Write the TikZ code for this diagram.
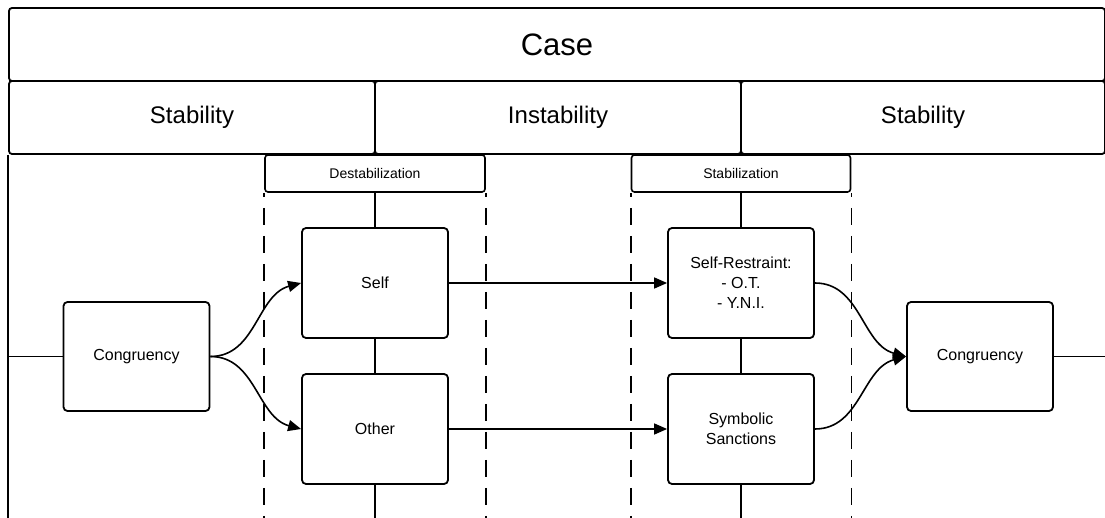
\documentclass[tikz,border=0pt]{standalone}
\usepackage{fontspec}
\setmainfont{Liberation Sans}
\usetikzlibrary{arrows.meta}
\begin{document}
\begin{tikzpicture}[x=1pt,y=-1pt,
		frame/.style={draw,line width=1.8pt,rounded corners=3pt,inner sep=0pt},
		box/.style={draw,line width=1.8pt,rounded corners=4pt,minimum width=146pt,minimum height=110pt,align=center,font=\fontsize{16}{20}\selectfont},
		tag/.style={draw,line width=1.6pt,rounded corners=3pt,minimum width=220pt,minimum height=37pt,font=\fontsize{14}{16}\selectfont},
		link/.style={line width=1.6pt},
		dashline/.style={line width=1.6pt,dash pattern=on 17pt off 11pt,dash phase=13pt},
		arr/.style={link,-{Triangle[length=13pt,width=11pt]}}]
		\useasboundingbox (0,0) rectangle (1105,518);
		\clip (0,0) rectangle (1105,518);

		% header rows
		\node[frame,minimum width=1096pt,minimum height=73pt,font=\fontsize{31}{36}\selectfont] (case) at (557,44.5) {Case};
		\node[frame,minimum width=366pt,minimum height=73pt,font=\fontsize{24}{28}\selectfont] (stabA) at (192,117.5) {Stability};
		\node[frame,minimum width=366pt,minimum height=73pt,font=\fontsize{24}{28}\selectfont] (instab) at (558,117.5) {Instability};
		\node[frame,minimum width=364pt,minimum height=73pt,font=\fontsize{24}{28}\selectfont] (stabB) at (923,117.5) {Stability};
		\draw[line width=1.8pt] (stabA.south west) -- ++(0,400);

		% phase tags
		\node[tag] (destab) at (375,173.5) {Destabilization};
		\node[tag,minimum width=219pt] (stab) at (741,173.5) {Stabilization};
		\draw[dashline] (destab.south west) -- ++(0,340);
		\draw[dashline] (destab.south east) -- ++(0,340);
		\draw[dashline] (stab.south west) -- ++(0,340);
		\draw[dashline] (stab.south east) -- ++(0,340);

		% boxes
		\node[box,minimum height=109pt] (congA) at (136.5,356.5) {Congruency};
		\node[box] (self) at (375,283) {Self};
		\node[box] (other) at (375,429) {Other};
		\node[box] (restraint) at (741,283) {Self-Restraint:\\- O.T.\\- Y.N.I.};
		\node[box] (sanction) at (741,429) {Symbolic\\Sanctions};
		\node[box,minimum height=109pt] (congB) at (980,356.5) {Congruency};

		% spines
		\draw[link] (destab.south) -- (self.north);
		\draw[link] (self.south) -- (other.north);
		\draw[link] (other.south) -- ++(0,60);
		\draw[link] (stab.south) -- (restraint.north);
		\draw[link] (restraint.south) -- (sanction.north);
		\draw[link] (sanction.south) -- ++(0,60);
		\draw[link] (stabA.south west |- congA.west) -- (congA.west);
		\draw[link] (congB.east) -- ++(60,0);

		% flows
		\draw[arr] (congA.east) to[out=0,in=195] (self.west);
		\draw[arr] (congA.east) to[out=0,in=165] (other.west);
		\draw[arr] (self.east) -- (restraint.west);
		\draw[arr] (other.east) -- (sanction.west);
		\draw[arr] (restraint.east) to[out=0,in=165] (congB.west);
		\draw[arr] (sanction.east) to[out=0,in=195] (congB.west);
	\end{tikzpicture}
\end{document}
